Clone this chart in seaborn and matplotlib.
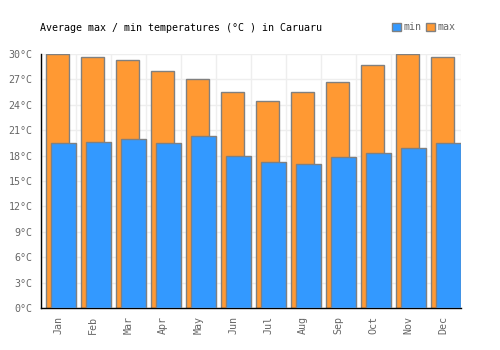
import numpy as np
import pandas as pd
import seaborn as sns
import matplotlib.pyplot as plt
from matplotlib.patches import Patch

# dữ liệu nhiệt độ Caruaru
months = ["Jan", "Feb", "Mar", "Apr", "May", "Jun", "Jul", "Aug", "Sep", "Oct", "Nov", "Dec"]
t_max = [30.0, 29.6, 29.25, 28.0, 27.0, 25.5, 24.5, 25.5, 26.65, 28.7, 30.0, 29.6]
t_min = [19.45, 19.55, 19.95, 19.45, 20.3, 17.9, 17.2, 16.95, 17.8, 18.25, 18.85, 19.45]
y_ticks = list(range(0, 31, 3))

df = pd.DataFrame({"month": months, "max": t_max, "min": t_min})

sns.set_style("white")
plt.rcParams["font.family"] = ["DejaVu Sans Mono", "DejaVu Sans"]
plt.rcParams["font.size"] = 7.2

c_max = "#ff9933"
c_min = "#3399ff"
c_edge = "#808080"

fig = plt.figure(figsize=(5, 3.5), dpi=100)
ax = fig.add_axes([0.0814, 0.12, 0.84, 0.7257])

sns.barplot(data=df, x="month", y="max", color=c_max, saturation=1,
            width=0.67, edgecolor=c_edge, linewidth=1, ax=ax, zorder=2)
n_max = len(ax.patches)
sns.barplot(data=df, x="month", y="min", color=c_min, saturation=1,
            width=0.70, edgecolor=c_edge, linewidth=1, ax=ax, zorder=3)
# dịch cột min sang phải một chút (chồng lên cột max)
for p in ax.patches[n_max:]:
    p.set_x(p.get_x() + 0.15)
for p in ax.patches[:n_max]:
    p.set_x(p.get_x() - 0.015)

ax.set_xlim(-0.5, 11.5)
ax.set_ylim(0, 30)
ax.set_yticks(y_ticks)
ax.set_yticklabels([f"{v}°C" for v in y_ticks])
ax.set_xticks(range(12))
ax.set_xticklabels(months, rotation=90)
ax.set_xticks(np.arange(-0.5, 12, 1), minor=True)
ax.tick_params(axis="both", which="both", length=0, colors="#666666", labelsize=7.2)
ax.tick_params(axis="y", pad=6)
ax.tick_params(axis="x", pad=6)

ax.grid(axis="y", color="#eeeeee", linewidth=1, zorder=0)
ax.grid(axis="x", which="minor", color="#eeeeee", linewidth=1, zorder=0)
ax.grid(axis="x", which="major", visible=False)
ax.set_axisbelow(True)
ax.set_xlabel("")
ax.set_ylabel("")

for s in ["top", "right"]:
    ax.spines[s].set_visible(False)
for s in ["left", "bottom"]:
    ax.spines[s].set_color("black")
    ax.spines[s].set_linewidth(1)

fig.text(0.08, 0.92, "Average max / min temperatures (°C ) in Caruaru",
         fontsize=7.2, color="black", va="center", ha="left")

handles = [Patch(facecolor=c_min, edgecolor=c_edge, label="min"),
           Patch(facecolor=c_max, edgecolor=c_edge, label="max")]
leg = fig.legend(handles=handles, loc="center right", bbox_to_anchor=(0.928, 0.922),
                 ncol=2, frameon=False, handlelength=0.9, handleheight=0.9,
                 handletextpad=0.2, columnspacing=0.5, fontsize=7.2)
for t in leg.get_texts():
    t.set_color("#666666")

fig.savefig("out.png", dpi=100)
